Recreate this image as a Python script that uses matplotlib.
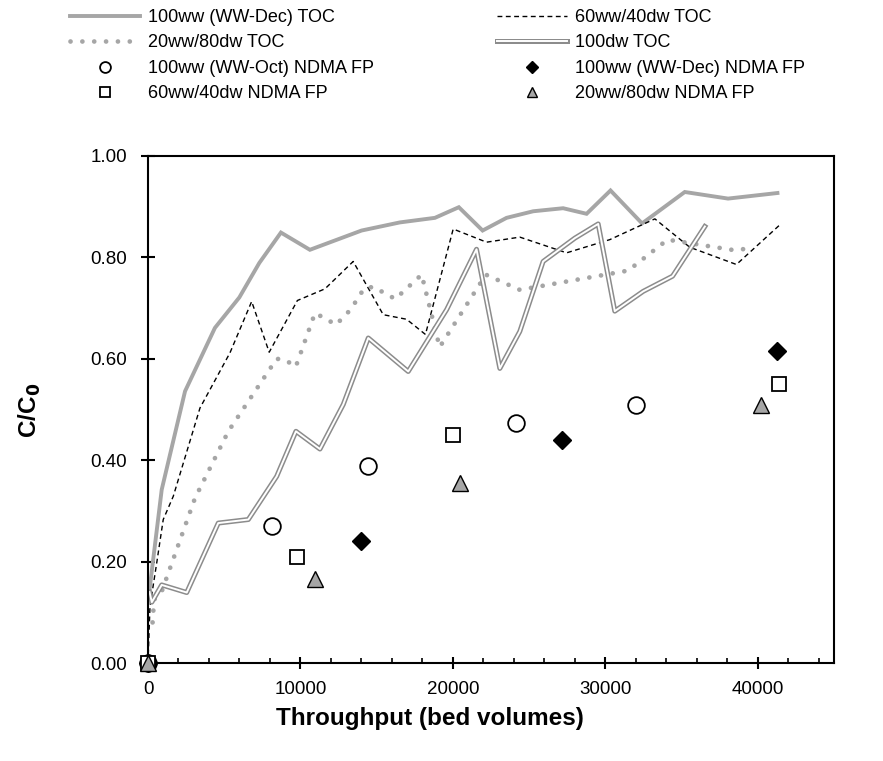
import matplotlib
matplotlib.use("Agg")
import matplotlib.pyplot as plt
from matplotlib.ticker import MultipleLocator, FormatStrFormatter

plt.rcParams["font.family"] = ["Liberation Sans", "DejaVu Sans"]

# TOC breakthrough curves (throughput in bed volumes, C/C0)
bv_ww_dec = [100, 900, 2430, 4390, 5990, 7300, 8720, 10620, 14010, 16520, 18820,
             20390, 21950, 23520, 25270, 27230, 28770, 30340, 32410, 35210, 38050, 41290]
toc_ww_dec = [0.145, 0.342, 0.536, 0.661, 0.721, 0.789, 0.849, 0.815, 0.853, 0.869, 0.878,
              0.899, 0.853, 0.878, 0.891, 0.897, 0.886, 0.932, 0.867, 0.929, 0.916, 0.927]

bv_60ww = [0, 130, 570, 1000, 1660, 3410, 5380, 6800, 7950, 9800, 11610, 13460, 15430,
           16960, 18200, 20020, 22210, 24390, 27460, 30290, 33250, 35540, 38600, 41440]
toc_60ww = [0.0, 0.112, 0.197, 0.283, 0.329, 0.503, 0.612, 0.713, 0.613, 0.715, 0.738, 0.792,
            0.687, 0.678, 0.648, 0.856, 0.830, 0.840, 0.809, 0.835, 0.876, 0.820, 0.786, 0.864]

bv_20ww = [300, 400, 900, 3080, 5270, 8440, 9000, 9690, 10950, 11610, 12330, 13290, 14160,
           14770, 16220, 17950, 19130, 22160, 24390, 31500, 34080, 38500, 39700]
toc_20ww = [0.08, 0.125, 0.141, 0.325, 0.457, 0.600, 0.598, 0.584, 0.690, 0.680, 0.667, 0.697,
            0.738, 0.742, 0.718, 0.766, 0.623, 0.766, 0.736, 0.774, 0.835, 0.814, 0.819]

bv_100dw = [100, 250, 900, 2540, 4610, 6580, 8440, 9705, 11280, 12810, 14450, 17070, 19590,
            21550, 23080, 24390, 25920, 28000, 29530, 30620, 32480, 34410, 36530]
toc_100dw = [0.14, 0.12, 0.154, 0.139, 0.276, 0.283, 0.368, 0.457, 0.422, 0.510, 0.641, 0.575,
             0.697, 0.816, 0.581, 0.654, 0.792, 0.838, 0.866, 0.694, 0.733, 0.763, 0.861]

# NDMA FP
bv_oct_fp = [0, 8110, 14410, 24130, 32040]
fp_oct = [0.0, 0.271, 0.389, 0.473, 0.508]
bv_dec_fp = [0, 13970, 27190, 41270]
fp_dec = [0.0, 0.240, 0.440, 0.616]
bv_60_fp = [0, 9770, 19980, 41380]
fp_60 = [0.0, 0.210, 0.450, 0.550]
bv_20_fp = [0, 10950, 20460, 40240]
fp_20 = [0.0, 0.165, 0.356, 0.508]

labels_left = ["100ww (WW-Dec) TOC", "20ww/80dw TOC", "100ww (WW-Oct) NDMA FP", "60ww/40dw NDMA FP"]
labels_right = ["60ww/40dw TOC", "100dw TOC", "100ww (WW-Dec) NDMA FP", "20ww/80dw NDMA FP"]

GRAY = "#a6a6a6"
DGRAY = "#8c8c8c"

fig = plt.figure(figsize=(8.83, 7.61), dpi=100)
ax = fig.add_axes([148 / 883, 1 - 663 / 761, (834 - 148) / 883, (663 - 156) / 761])

solid, = ax.plot(bv_ww_dec, toc_ww_dec, color=GRAY, lw=2.8, solid_joinstyle="miter")
dashed, = ax.plot(bv_60ww, toc_60ww, color="black", lw=1.0, dashes=(3.5, 2.5))
dotted, = ax.plot(bv_20ww, toc_20ww, color=GRAY, lw=3.4, linestyle=(0, (0.01, 2.5)),
                  dash_capstyle="round")
dbl_out, = ax.plot(bv_100dw, toc_100dw, color=DGRAY, lw=3.6)
dbl_in, = ax.plot(bv_100dw, toc_100dw, color="white", lw=1.4)

mk = dict(linestyle="none", clip_on=False, zorder=5)
circ, = ax.plot(bv_oct_fp, fp_oct, marker="o", ms=12, mfc="white", mec="black", mew=1.3, **mk)
diam, = ax.plot(bv_dec_fp, fp_dec, marker="D", ms=9.5, mfc="black", mec="black", mew=1.0, **mk)
sq, = ax.plot(bv_60_fp, fp_60, marker="s", ms=10, mfc="white", mec="black", mew=1.3, **mk)
tri, = ax.plot(bv_20_fp, fp_20, marker="^", ms=11.5, mfc=GRAY, mec="black", mew=1.0, **mk)

ax.set_xlim(0, 45000)
ax.set_ylim(0, 1.0)
ax.xaxis.set_major_locator(MultipleLocator(10000))
ax.xaxis.set_minor_locator(MultipleLocator(2000))
ax.yaxis.set_major_locator(MultipleLocator(0.2))
ax.yaxis.set_major_formatter(FormatStrFormatter("%.2f"))
for s in ax.spines.values():
    s.set_linewidth(1.5)
ax.tick_params(axis="y", which="major", direction="inout", length=10, width=1.5, pad=10,
               labelsize=13.5)
ax.tick_params(axis="x", which="major", direction="inout", length=8, width=1.5, pad=9,
               labelsize=13.5)
ax.tick_params(axis="x", which="minor", direction="in", length=3.5, width=1.2)

fig.text(430 / 883, 1 - 718 / 761, "Throughput (bed volumes)", ha="center", va="center",
         fontsize=17.5, fontweight="bold")
fig.text(30 / 883, 1 - 410 / 761, "C/C$_\\mathbf{0}$", ha="center", va="center", rotation=90,
         fontsize=17.5, fontweight="bold")

# legend: two separate columns
common = dict(frameon=False, fontsize=13, handlelength=3.9, handletextpad=0.4,
              labelspacing=0.47, borderpad=0, borderaxespad=0, markerscale=0.65,
              loc="upper left")
fig.legend([solid, dotted, circ, sq], labels_left,
           bbox_to_anchor=(70 / 883, 1 - 9 / 761), **common)
fig.legend([dashed, (dbl_out, dbl_in), diam, tri], labels_right,
           bbox_to_anchor=(497 / 883, 1 - 9 / 761), **common)

fig.savefig("out.png", dpi=100)
